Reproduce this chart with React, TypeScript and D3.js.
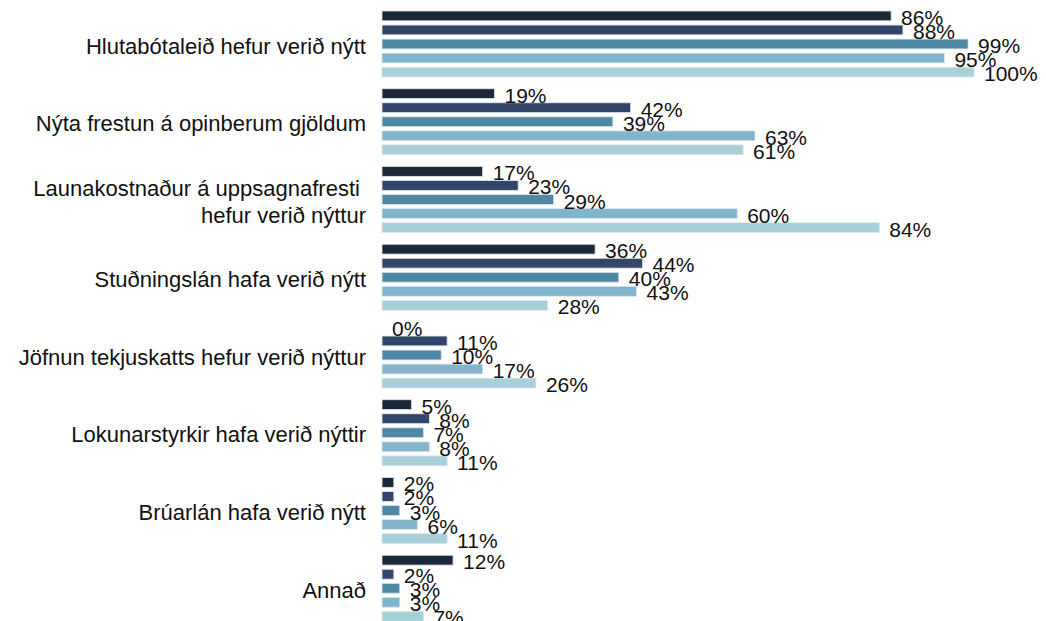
import { useRef, useEffect } from "react";
import * as d3 from "d3";

const categories = [
  "Hlutabótaleið hefur verið nýtt",
  "Nýta frestun á opinberum gjöldum",
  "Launakostnaður á uppsagnafresti |hefur verið nýttur",
  "Stuðningslán hafa verið nýtt",
  "Jöfnun tekjuskatts hefur verið nýttur",
  "Lokunarstyrkir hafa verið nýttir",
  "Brúarlán hafa verið nýtt",
  "Annað",
];

const seriesNames = ["s1", "s2", "s3", "s4", "s5"];
const colors = ["#1b2837", "#33466a", "#4e88a3", "#82b5cc", "#a9cfd9"];

const s1 = [86, 19, 17, 36, 0, 5, 2, 12];
const s2 = [88, 42, 23, 44, 11, 8, 2, 2];
const s3 = [99, 39, 29, 40, 10, 7, 3, 3];
const s4 = [95, 63, 60, 43, 17, 8, 6, 3];
const s5 = [100, 61, 84, 28, 26, 11, 11, 7];
const allSeries = [s1, s2, s3, s4, s5];

export default function App() {
  const svgRef = useRef(null);
  const width = 1046;
  const height = 621;

  useEffect(() => {
    const svg = d3.select(svgRef.current);
    svg.selectAll("*").remove();

    const x = d3.scaleLinear().domain([0, 100]).range([382, 974]);
    const y0 = d3.scaleBand().domain(categories).range([0, 622]);
    const y1 = d3.scaleBand().domain(seriesNames).range([0, 66]).paddingInner(0.3).paddingOuter(0);

    const groups = svg
      .selectAll(".grp")
      .data(categories)
      .enter()
      .append("g")
      .attr("class", "grp")
      .attr("transform", (d) => `translate(0,${y0(d) + 11})`);

    groups.each(function (cat, ci) {
      const g = d3.select(this);
      const rows = allSeries.map((s, si) => ({ key: seriesNames[si], v: s[ci], c: colors[si] }));

      g.selectAll("rect")
        .data(rows)
        .enter()
        .append("rect")
        .attr("x", x(0))
        .attr("y", (d) => y1(d.key))
        .attr("width", (d) => Math.max(0, x(d.v) - x(0)))
        .attr("height", y1.bandwidth())
        .attr("fill", (d) => d.c)
        .attr("stroke", "#dde5ea")
        .attr("stroke-width", 0.8);

      g.selectAll("text.val")
        .data(rows)
        .enter()
        .append("text")
        .attr("class", "val")
        .attr("x", (d) => x(d.v) + 10)
        .attr("y", (d) => y1(d.key) + y1.bandwidth() / 2 + 9)
        .attr("font-size", "21px")
        .attr("fill", "#111")
        .text((d) => d.v + "%");

      // category label, "|" marks a line break
      const lines = cat.split("|");
      const lh = 27;
      const mid = 33 + 2;
      const lbl = g
        .append("text")
        .attr("text-anchor", "end")
        .attr("font-size", "22px")
        .attr("fill", "#111")
        .attr("xml:space", "preserve");
      lines.forEach((line, li) => {
        lbl
          .append("tspan")
          .attr("x", 366)
          .attr("y", mid + (li - (lines.length - 1) / 2) * lh)
          .attr("dominant-baseline", "central")
          .text(line);
      });
    });
  }, []);

  return (
    <svg
      ref={svgRef}
      width={width}
      height={height}
      style={{ position: "absolute", left: 0, top: 0, fontFamily: "Arial, 'Liberation Sans', sans-serif", background: "#fff" }}
    ></svg>
  );
}
